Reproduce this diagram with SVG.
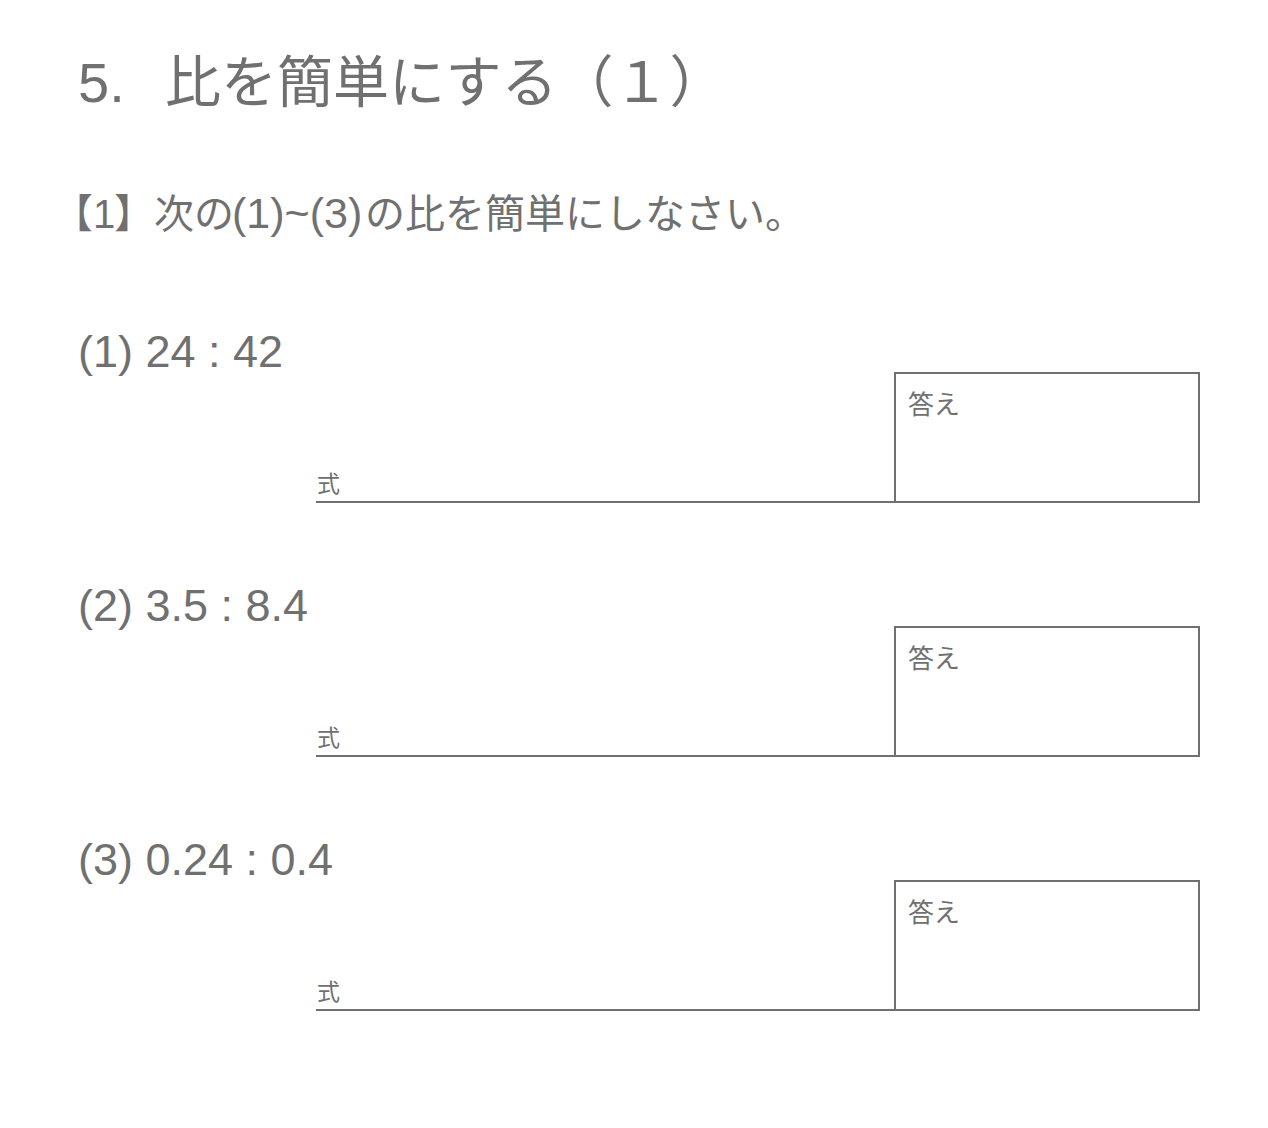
<svg xmlns="http://www.w3.org/2000/svg" width="1268" height="1128" viewBox="0 0 1268 1128">
<style>
text{font-family:"Noto Sans CJK JP","Noto Sans",sans-serif;fill:#707070}
.lat{font-family:"Liberation Sans","Noto Sans CJK JP",sans-serif}
.title{font-size:56px}
.inst{font-size:40px}
.q{font-size:45px}
.shiki{font-size:23px}
.ans{font-size:26px}
.box{fill:none;stroke:#707070;stroke-width:2}
.line{stroke:#707070;stroke-width:2}
</style>
<rect width="1268" height="1128" fill="#ffffff"/>
<g id="title">
<text class="title lat" x="78" y="102">5.</text>
<text class="title" x="165" y="102">比を簡単にする（１）</text>
</g>
<g id="instruction">
<text class="inst" y="228"><tspan x="53">【</tspan><tspan class="lat" x="93">1</tspan><tspan x="114">】</tspan><tspan x="154">次の</tspan><tspan class="lat" x="232" font-size="43">(1)~(3)</tspan><tspan x="365">の比を簡単にしなさい。</tspan></text>
</g>
<g id="q1">
<text class="q lat" x="78" y="367">(1) 24 : 42</text>
<line class="line" x1="316" y1="502" x2="895" y2="502"/>
<text class="shiki" x="317" y="492">式</text>
<rect class="box" x="895" y="373" width="304" height="129"/>
<text class="ans" x="908" y="414">答え</text>
</g>
<g id="q2">
<text class="q lat" x="78" y="621">(2) 3.5 : 8.4</text>
<line class="line" x1="316" y1="756" x2="895" y2="756"/>
<text class="shiki" x="317" y="746">式</text>
<rect class="box" x="895" y="627" width="304" height="129"/>
<text class="ans" x="908" y="668">答え</text>
</g>
<g id="q3">
<text class="q lat" x="78" y="875">(3) 0.24 : 0.4</text>
<line class="line" x1="316" y1="1010" x2="895" y2="1010"/>
<text class="shiki" x="317" y="1000">式</text>
<rect class="box" x="895" y="881" width="304" height="129"/>
<text class="ans" x="908" y="922">答え</text>
</g>
</svg>
